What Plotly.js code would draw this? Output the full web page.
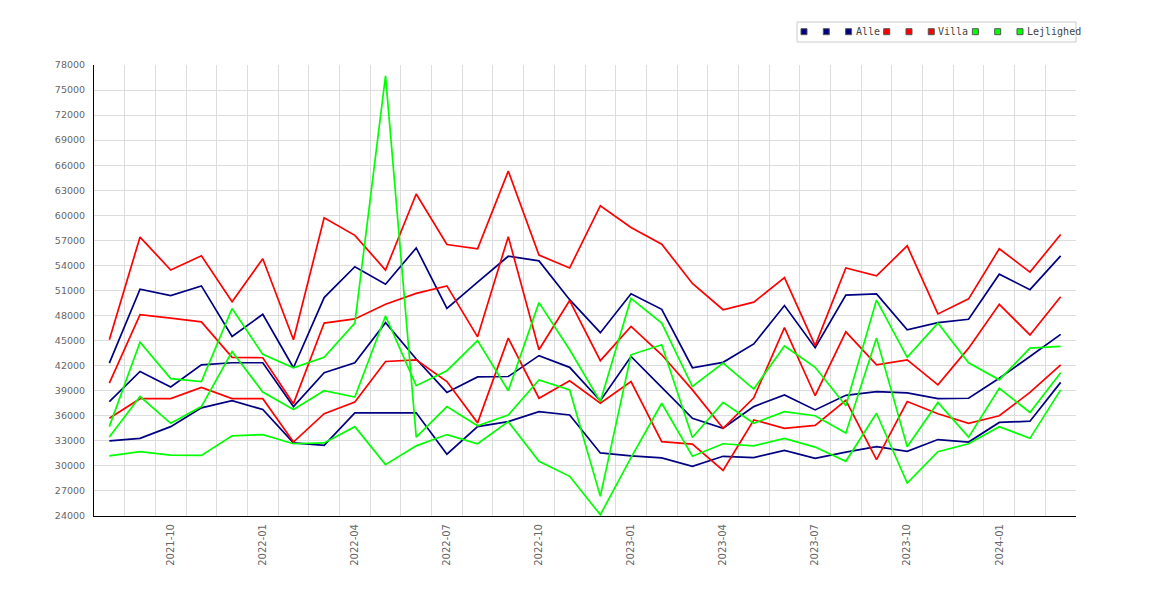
<!DOCTYPE html>
<html>
<head>
<meta charset="utf-8">
<script src="https://cdn.plot.ly/plotly-3.0.1.min.js"></script>
<style>
  body { margin: 0; background: #fff; }
  #chart { width: 1170px; height: 600px; }
</style>
</head>
<body>
<div id="chart"></div>
<script>
// months on the x axis, one point per month
const months = ['2021-08', '2021-09', '2021-10', '2021-11', '2021-12',
  '2022-01', '2022-02', '2022-03', '2022-04', '2022-05', '2022-06', '2022-07',
  '2022-08', '2022-09', '2022-10', '2022-11', '2022-12',
  '2023-01', '2023-02', '2023-03', '2023-04', '2023-05', '2023-06', '2023-07',
  '2023-08', '2023-09', '2023-10', '2023-11', '2023-12',
  '2024-01', '2024-02', '2024-03'];

// Alle (three lines)
const alleHigh = [42300, 51150, 50400, 51550, 45500, 48150, 41750, 50150, 53850, 51750, 56100, 48850,
  52000, 55100, 54550, 49900, 45950, 50600, 48750, 41750, 42400, 44600, 49200, 44150,
  50450, 50600, 46300, 47150, 47550, 52950, 51100, 55150];
const alleMid = [37700, 41300, 39450, 42100, 42350, 42350, 37100, 41150, 42350, 47150, 42800, 38800,
  40650, 40700, 43200, 41800, 37800, 43100, 39400, 35700, 34500, 37100, 38500, 36700,
  38450, 38900, 38750, 38050, 38100, 40500, 43100, 45750];
const alleLow = [33000, 33300, 34700, 36950, 37800, 36750, 32750, 32450, 36350, 36350, 36350, 31400,
  34700, 35300, 36500, 36100, 31550, 31200, 30950, 29950, 31150, 31000, 31850, 30900,
  31650, 32300, 31750, 33150, 32850, 35200, 35350, 40000];

// Villa
const villaHigh = [45100, 57400, 53450, 55150, 49650, 54800, 45100, 59700, 57600, 53450, 62550, 56500,
  56000, 65300, 55250, 53700, 61150, 58550, 56550, 51850, 48700, 49600, 52550, 44400,
  53700, 52750, 56350, 48200, 50000, 56000, 53200, 57700];
const villaMid = [39900, 48100, 47700, 47250, 43000, 42950, 37450, 47100, 47600, 49350, 50650, 51550,
  45450, 57450, 43900, 49800, 42600, 46700, 43300, 39100, 34500, 38150, 46550, 38400,
  46050, 42100, 42700, 39700, 44100, 49350, 45680, 50250];
const villaLow = [35700, 38050, 38050, 39400, 38050, 38050, 32850, 36250, 37650, 42500, 42700, 40100,
  35150, 45300, 38100, 40200, 37500, 40100, 32900, 32600, 29450, 35500, 34500, 34850,
  37850, 30750, 37700, 36250, 35100, 36000, 38800, 42100];

// Lejlighed
const lejlA = [34700, 44800, 40450, 40100, 48850, 43350, 41750, 43000, 47100, 76700, 33450, 37100,
  34800, 36100, 40300, 39100, 26350, 43300, 44500, 33400, 37600, 35100, 36500, 36000,
  33950, 45300, 32300, 37600, 33450, 39300, 36400, 41150];
const lejlB = [33450, 38300, 35100, 37100, 43700, 38850, 36750, 39000, 38250, 47950, 39600, 41400,
  45000, 39000, 49550, 43900, 37700, 50050, 47100, 39500, 42300, 39200, 44350, 41800,
  37200, 49850, 43000, 47100, 42350, 40300, 44100, 44300];
const lejlC = [31200, 31700, 31300, 31250, 33600, 33750, 32650, 32750, 34700, 30150, 32400, 33750,
  32650, 35300, 30550, 28750, 24150, 31000, 37500, 31150, 32650, 32400, 33300, 32250,
  30550, 36300, 27950, 31700, 32650, 34700, 33300, 39100];

const groups = [
  {name: 'Alle', color: '#000080', series: [alleHigh, alleMid, alleLow]},
  {name: 'Villa', color: '#ff0000', series: [villaHigh, villaMid, villaLow]},
  {name: 'Lejlighed', color: '#00ff00', series: [lejlA, lejlB, lejlC]}
];

const W = 1170, H = 600;
const M = {l: 94, r: 94, t: 65, b: 84};
const plotW = W - M.l - M.r;
const plotH = H - M.t - M.b;
// pixel -> paper helpers, only used for the hand made legend
function px(x) { return (x - M.l) / plotW; }
function py(y) { return (H - M.b - y) / plotH; }

const data = [];
for (const g of groups) {
  g.series.forEach(function(ys) {
    data.push({
      x: months,
      y: ys,
      type: 'scatter',
      mode: 'lines',
      name: g.name,
      showlegend: false,
      line: {color: g.color, width: 1.7}
    });
  });
}

// quarter labels on an overlaid axis, the main axis only carries the month grid
const labelIdx = [];
const labelText = [];
months.forEach(function(m, i) {
  if (/-(01|04|07|10)$/.test(m)) { labelIdx.push(i); labelText.push(m); }
});
// dummy trace so the overlaid label axis is drawn
data.push({x: [null], y: [null], xaxis: 'x2', yaxis: 'y', showlegend: false, hoverinfo: 'skip', type: 'scatter', mode: 'lines'});

// legend like the original: three keys per group, label after the third one
const shapes = [];
const annotations = [];
const legTop = 22, legBottom = 42, legMid = 31.7;
shapes.push({
  type: 'rect', xref: 'paper', yref: 'paper',
  x0: px(797), x1: px(1076), y0: py(legBottom), y1: py(legTop),
  line: {color: '#cccccc', width: 1}, fillcolor: 'rgba(0,0,0,0)'
});
let cursor = 804;
const charW = 6.02;
for (const g of groups) {
  for (let i = 0; i < 3; i++) {
    shapes.push({
      type: 'rect', xref: 'paper', yref: 'paper',
      xsizemode: 'pixel', ysizemode: 'pixel',
      xanchor: px(cursor + i * 22.3), yanchor: py(legMid),
      x0: -3, x1: 3, y0: -3, y1: 3,
      fillcolor: g.color, line: {color: '#555', width: 1}
    });
  }
  const textX = cursor + 2 * 22.3 + 5;
  annotations.push({
    xref: 'paper', yref: 'paper', x: px(textX), y: py(legMid),
    xanchor: 'left', yanchor: 'middle', showarrow: false,
    text: g.name,
    font: {family: 'DejaVu Sans Mono, monospace', size: 10, color: '#444'}
  });
  cursor = textX + g.name.length * charW + 9;
}

const layout = {
  width: W,
  height: H,
  margin: M,
  paper_bgcolor: '#ffffff',
  plot_bgcolor: '#ffffff',
  font: {family: 'DejaVu Sans, sans-serif', size: 10, color: '#666'},
  showlegend: false,
  xaxis: {
    type: 'category',
    tickson: 'boundaries',
    showticklabels: false,
    ticks: '',
    showgrid: true,
    gridcolor: '#dddddd',
    gridwidth: 1,
    showline: true,
    linecolor: '#000',
    linewidth: 1,
    range: [-0.5, months.length - 0.5],
    fixedrange: true
  },
  xaxis2: {
    overlaying: 'x',
    anchor: 'y',
    side: 'bottom',
    type: 'linear',
    range: [-0.5, months.length - 0.5],
    tickmode: 'array',
    tickvals: labelIdx,
    ticktext: labelText,
    tickangle: -90,
    ticks: '',
    ticklabelstandoff: 5,
    showgrid: false,
    zeroline: false,
    showline: false,
    tickfont: {family: 'DejaVu Sans, sans-serif', size: 10, color: '#666'}
  },
  yaxis: {
    range: [24000, 78000],
    tick0: 24000,
    dtick: 3000,
    tickformat: 'd',
    ticks: '',
    ticklabelstandoff: 6,
    showgrid: true,
    gridcolor: '#dddddd',
    gridwidth: 1,
    zeroline: false,
    showline: true,
    linecolor: '#000',
    linewidth: 1,
    tickfont: {family: 'DejaVu Sans, sans-serif', size: 9.5, color: '#666'}
  },
  shapes: shapes,
  annotations: annotations
};

Plotly.newPlot('chart', data, layout, {displayModeBar: false, staticPlot: true});
</script>
</body>
</html>
